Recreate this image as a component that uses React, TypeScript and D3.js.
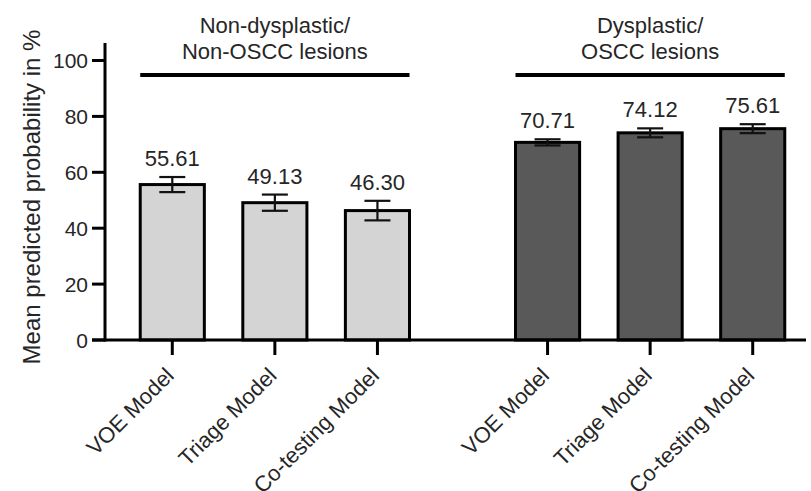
import React from "react";
import { scaleBand, scaleLinear, format } from "d3";

const models = ["VOE Model", "Triage Model", "Co-testing Model"];
const groupNames = ["nonDysplastic", "dysplastic"];
const groupTitles = [
  ["Non-dysplastic/", "Non-OSCC lesions"],
  ["Dysplastic/", "OSCC lesions"],
];
const nonDysplasticMeans = [55.61, 49.13, 46.3];
const dysplasticMeans = [70.71, 74.12, 75.61];
const nonDysplasticErr = [2.7, 2.9, 3.5];
const dysplasticErr = [1.1, 1.6, 1.6];
const yTicks = [0, 20, 40, 60, 80, 100];

const groupFills = ["#d4d4d4", "#595959"];
const textColor = "#262626";
const font = "'Liberation Sans', Arial, sans-serif";

export default function App() {
  const width = 811;
  const height = 491;

  const y = scaleLinear().domain([0, 100]).range([340, 60.5]);

  const xGroup = scaleBand()
    .domain(groupNames)
    .range([121, 804])
    .paddingInner(0.18);

  const xModel = scaleBand()
    .domain(models)
    .range([0, xGroup.bandwidth()])
    .paddingInner(0.375)
    .paddingOuter(0.1875);

  const fmt = format(".2f");

  const series = [
    { means: nonDysplasticMeans, errs: nonDysplasticErr },
    { means: dysplasticMeans, errs: dysplasticErr },
  ];

  const axisLeft = 105;
  const capW = 26;

  return (
    <svg
      width={width}
      height={height}
      style={{ position: "absolute", left: 0, top: 0, background: "#fff" }}
      fontFamily={font}
    >
      {/* y axis title */}
      <text
        transform={`translate(40, 197) rotate(-90)`}
        textAnchor="middle"
        fontSize="24"
        fill={textColor}
      >
        Mean predicted probability in %
      </text>

      {/* bars */}
      {groupNames.map((g, gi) => {
        const gx = xGroup(g)!;
        const s = series[gi];
        return (
          <g key={g}>
            {models.map((m, i) => {
              const x0 = gx + xModel(m)!;
              const bw = xModel.bandwidth();
              const cx = x0 + bw / 2;
              const v = s.means[i];
              const e = s.errs[i];
              return (
                <g key={m}>
                  <rect
                    x={x0}
                    y={y(v)}
                    width={bw}
                    height={y(0) - y(v)}
                    fill={groupFills[gi]}
                    stroke="#000"
                    strokeWidth={3}
                  />
                  <line x1={cx} x2={cx} y1={y(v + e)} y2={y(v - e)} stroke="#111" strokeWidth={2.2} />
                  <line x1={cx - capW / 2} x2={cx + capW / 2} y1={y(v + e)} y2={y(v + e)} stroke="#111" strokeWidth={2.2} />
                  <line x1={cx - capW / 2} x2={cx + capW / 2} y1={y(v - e)} y2={y(v - e)} stroke="#111" strokeWidth={2.2} />
                  <text
                    x={cx}
                    y={y(v + e) - 11}
                    textAnchor="middle"
                    fontSize="22"
                    fill={textColor}
                  >
                    {fmt(v)}
                  </text>
                  {/* x tick */}
                  <line x1={cx} x2={cx} y1={y(0)} y2={y(0) + 15} stroke="#000" strokeWidth={3} />
                  <text
                    transform={`translate(${cx + 3}, ${y(0) + 37}) rotate(-45)`}
                    textAnchor="end"
                    fontSize="22"
                    fill={textColor}
                  >
                    {m}
                  </text>
                </g>
              );
            })}
            {/* group bracket */}
            <line
              x1={gx + xModel(models[0])!}
              x2={gx + xModel(models[models.length - 1])! + xModel.bandwidth()}
              y1={75}
              y2={75}
              stroke="#000"
              strokeWidth={4}
            />
            <text textAnchor="middle" fontSize="22" fill={textColor}>
              {groupTitles[gi].map((t, li) => (
                <tspan key={li} x={gx + xGroup.bandwidth() / 2} y={33 + li * 26}>
                  {t}
                </tspan>
              ))}
            </text>
          </g>
        );
      })}

      {/* y axis */}
      <line x1={axisLeft} x2={axisLeft} y1={43} y2={y(0) + 1.5} stroke="#000" strokeWidth={3} />
      {yTicks.map((t) => (
        <g key={t}>
          <line x1={axisLeft - 13} x2={axisLeft} y1={y(t)} y2={y(t)} stroke="#000" strokeWidth={3} />
          <text
            x={axisLeft - 17}
            y={y(t)}
            dy="0.36em"
            textAnchor="end"
            fontSize="21"
            fill={textColor}
          >
            {t}
          </text>
        </g>
      ))}

      {/* x axis */}
      <line x1={axisLeft - 13} x2={806} y1={y(0)} y2={y(0)} stroke="#000" strokeWidth={3} />
    </svg>
  );
}
